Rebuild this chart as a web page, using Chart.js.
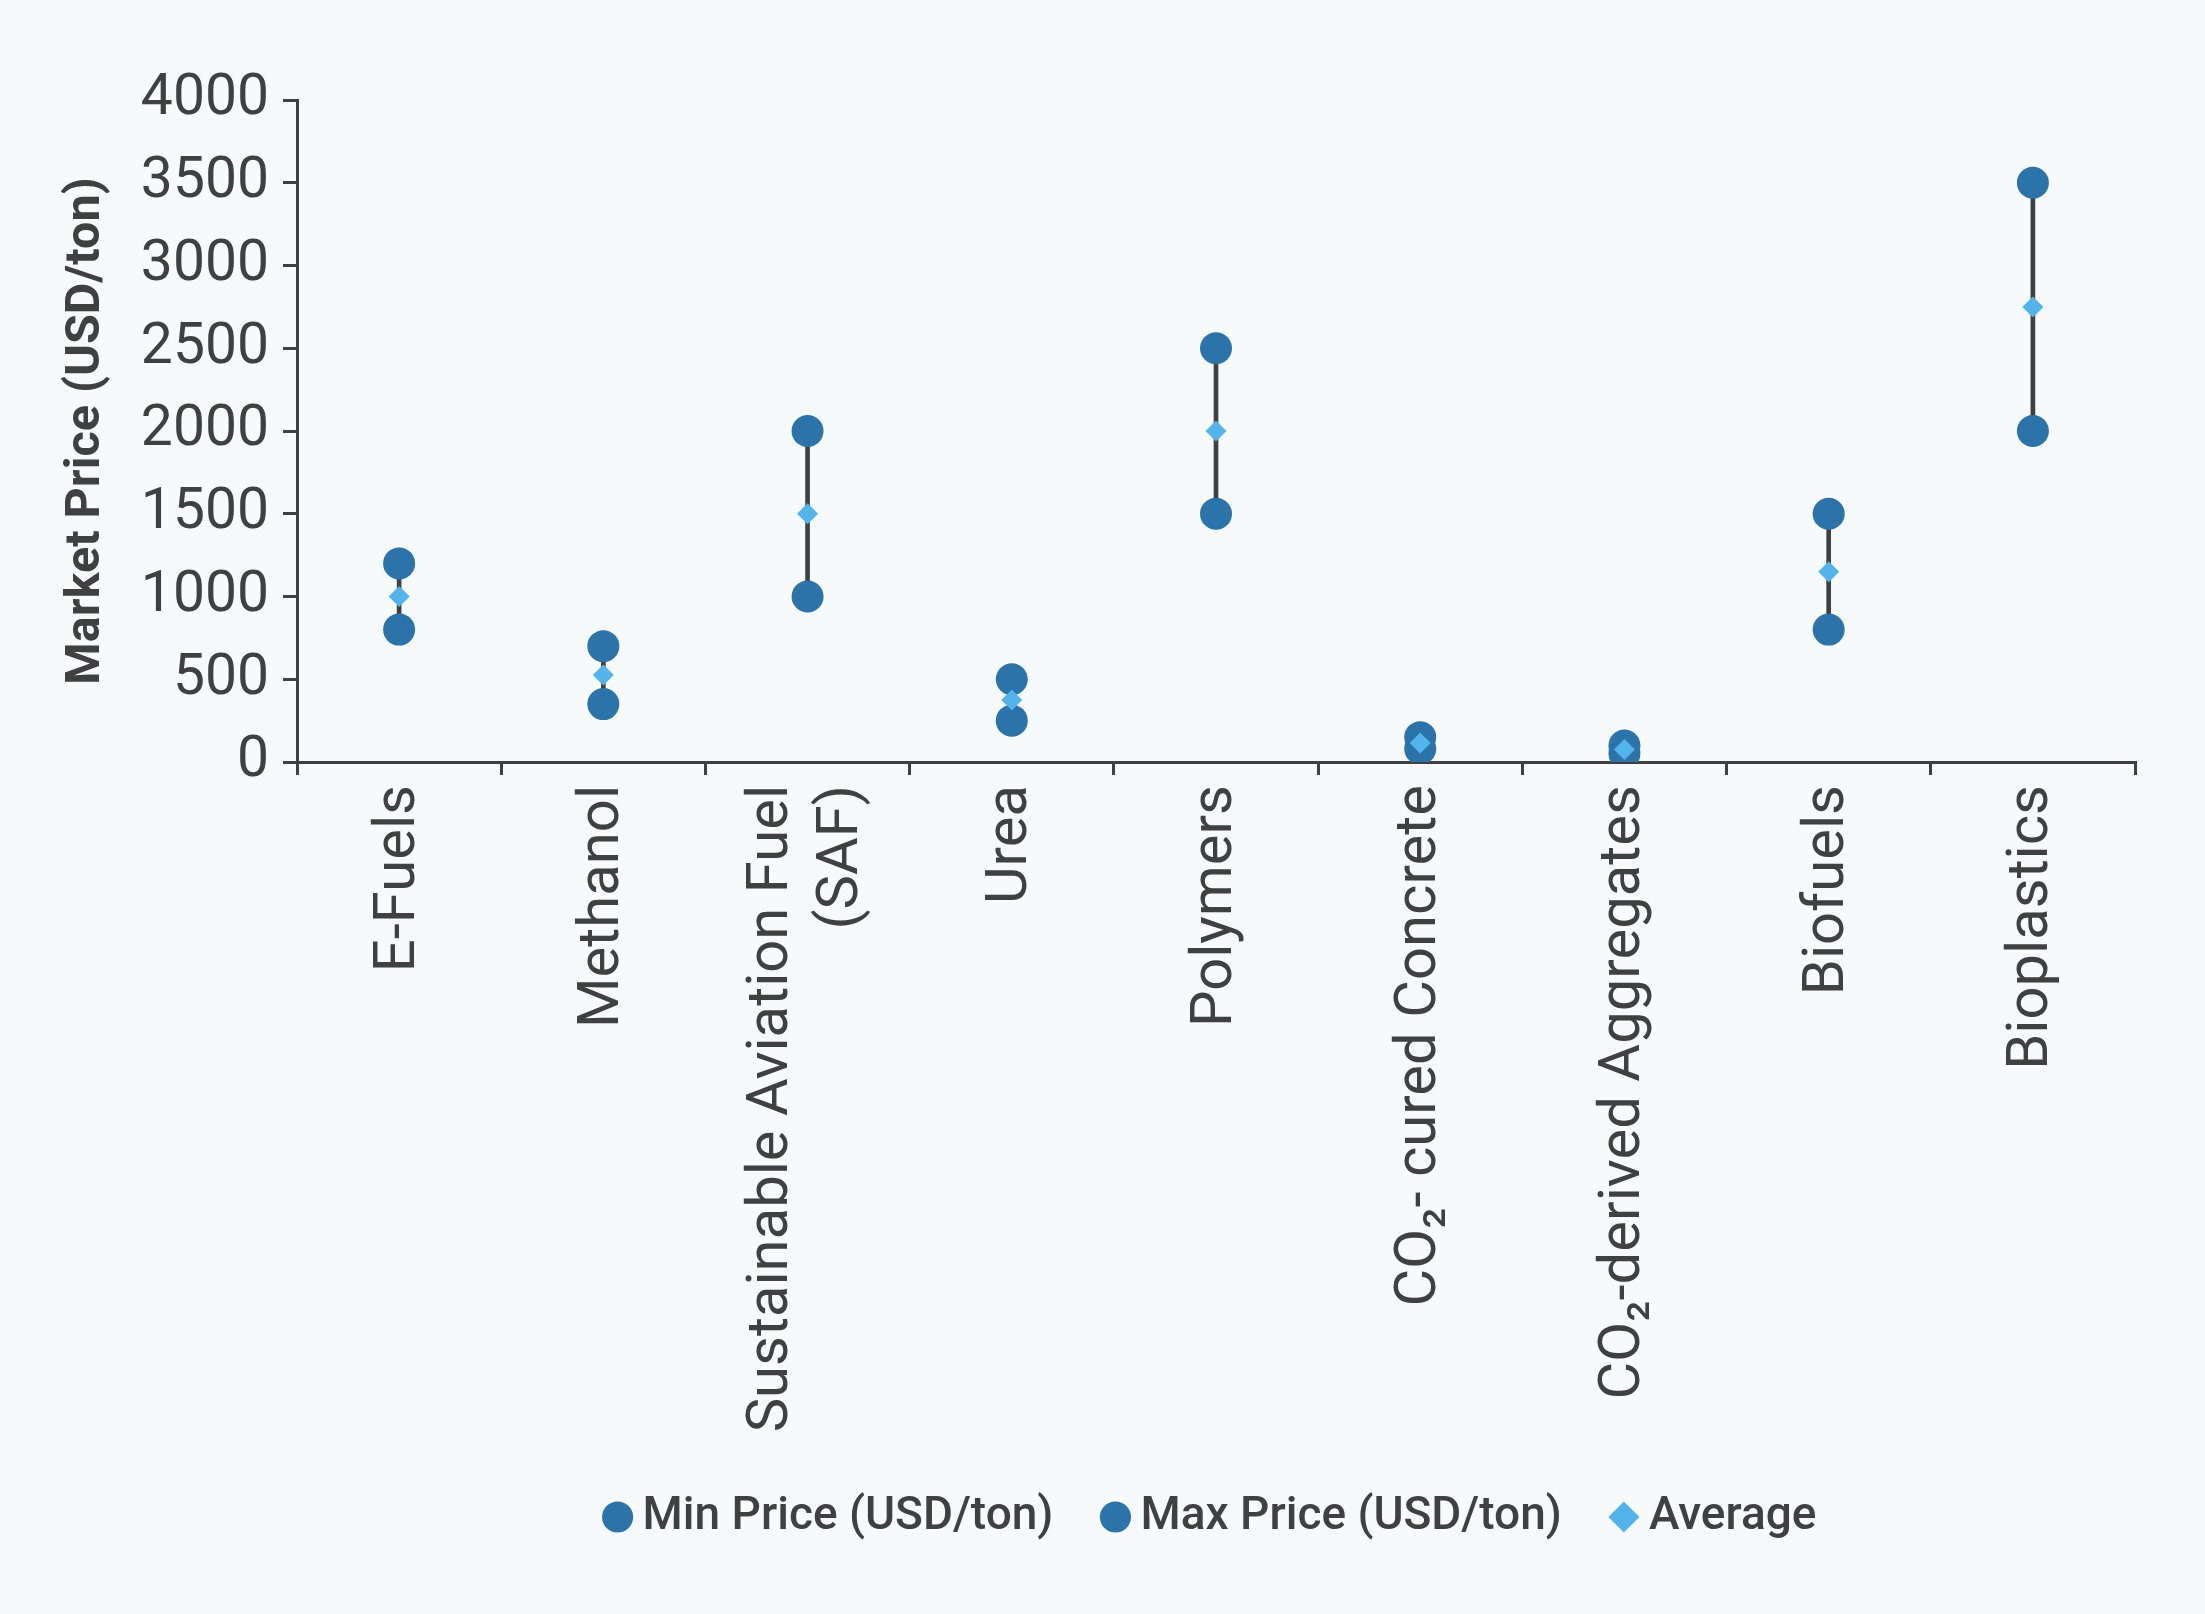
<!DOCTYPE html>
<html>
<head>
<meta charset="utf-8">
<script src="https://cdn.jsdelivr.net/npm/chart.js@4"></script>
<style>
  html, body { margin: 0; padding: 0; background: #f6fafa; }
  #wrap { width: 2205px; height: 1614px; }
</style>
</head>
<body>
<div id="wrap"><canvas id="c" width="2205" height="1614"></canvas></div>
<script>
const categories = [
  "E-Fuels",
  "Methanol",
  ["Sustainable Aviation Fuel", "(SAF)"],
  "Urea",
  "Polymers",
  "CO\u2082- cured Concrete",
  "CO\u2082-derived Aggregates",
  "Biofuels",
  "Bioplastics"
];
const minPrice = [800, 350, 1000, 250, 1500, 80, 50, 800, 2000];
const maxPrice = [1200, 700, 2000, 500, 2500, 150, 100, 1500, 3500];
const avgPrice = [1000, 525, 1500, 375, 2000, 115, 75, 1150, 2750];
const yTicks = [0, 500, 1000, 1500, 2000, 2500, 3000, 3500, 4000];

const INK = '#404040';
const DOT = '#2b73a9';
const AVG = '#52b4ea';
const X_FONT = 58;
const X_LH = 1.2;

const ranges = categories.map((c, i) => [minPrice[i], maxPrice[i]]);

new Chart(document.getElementById('c'), {
  data: {
    labels: categories,
    datasets: [
      {
        type: 'bar',
        label: 'range',
        data: ranges,
        backgroundColor: INK,
        borderWidth: 0,
        barThickness: 4,
        order: 10
      },
      {
        type: 'line',
        label: 'Min Price (USD/ton)',
        data: minPrice,
        showLine: false,
        pointStyle: 'circle',
        pointRadius: 16,
        pointHoverRadius: 16,
        pointBackgroundColor: DOT,
        pointBorderWidth: 0,
        backgroundColor: DOT,
        borderColor: DOT,
        order: 2
      },
      {
        type: 'line',
        label: 'Max Price (USD/ton)',
        data: maxPrice,
        showLine: false,
        pointStyle: 'circle',
        pointRadius: 16,
        pointHoverRadius: 16,
        pointBackgroundColor: DOT,
        pointBorderWidth: 0,
        backgroundColor: DOT,
        borderColor: DOT,
        order: 1
      },
      {
        type: 'line',
        label: 'Average',
        data: avgPrice,
        showLine: false,
        pointStyle: 'rectRot',
        pointRadius: 10.5,
        pointHoverRadius: 10.5,
        pointBackgroundColor: AVG,
        pointBorderWidth: 0,
        backgroundColor: AVG,
        borderColor: AVG,
        order: 0
      }
    ]
  },
  options: {
    responsive: false,
    devicePixelRatio: 1,
    animation: false,
    events: [],
    layout: { padding: { left: 40, top: 100, right: 70, bottom: 64 } },
    plugins: {
      tooltip: { enabled: false },
      legend: {
        position: 'bottom',
        fullSize: false,
        labels: {
          filter: (item) => item.text !== 'range',
          sort: (a, b) => a.datasetIndex - b.datasetIndex,
          usePointStyle: true,
          boxWidth: 4,
          boxHeight: 22,
          padding: 60,
          color: INK,
          font: { family: 'Roboto', size: 46, weight: '500' }
        }
      }
    },
    scales: {
      x: {
        type: 'category',
        offset: true,
        grid: {
          offset: true,
          drawOnChartArea: false,
          drawTicks: true,
          tickLength: 13,
          color: INK,
          lineWidth: 3
        },
        border: { display: true, color: INK, width: 3 },
        ticks: {
          minRotation: 90,
          maxRotation: 90,
          autoSkip: false,
          padding: 10,
          color: INK,
          labelOffset: -(X_FONT * X_LH) / 2,
          // single-line labels keep a transparent backdrop so only the
          // two-line label gets Chart.js's own half-line shift (centres the pair)
          showLabelBackdrop: (ctx) => !Array.isArray(categories[ctx.index]),
          backdropColor: 'rgba(0,0,0,0)',
          backdropPadding: 0,
          font: { family: 'Roboto', size: X_FONT, lineHeight: X_LH }
        },
        afterFit: (s) => { s.height = 672; }
      },
      y: {
        min: 0,
        max: 4000,
        afterBuildTicks: (s) => { s.ticks = yTicks.map(v => ({ value: v })); },
        grid: {
          drawOnChartArea: false,
          drawTicks: true,
          tickLength: 14,
          color: INK,
          lineWidth: 3
        },
        border: { display: true, color: INK, width: 3 },
        ticks: {
          padding: 14,
          color: INK,
          font: { family: 'Roboto', size: 57 },
          callback: (v) => String(v)
        },
        title: {
          display: true,
          text: 'Market Price (USD/ton)',
          color: INK,
          padding: { top: 18, bottom: 0 },
          font: { family: 'Roboto', size: 48.5, weight: 'bold' }
        },
        afterFit: (s) => { s.width = 257; }
      }
    }
  }
});
</script>
</body>
</html>
